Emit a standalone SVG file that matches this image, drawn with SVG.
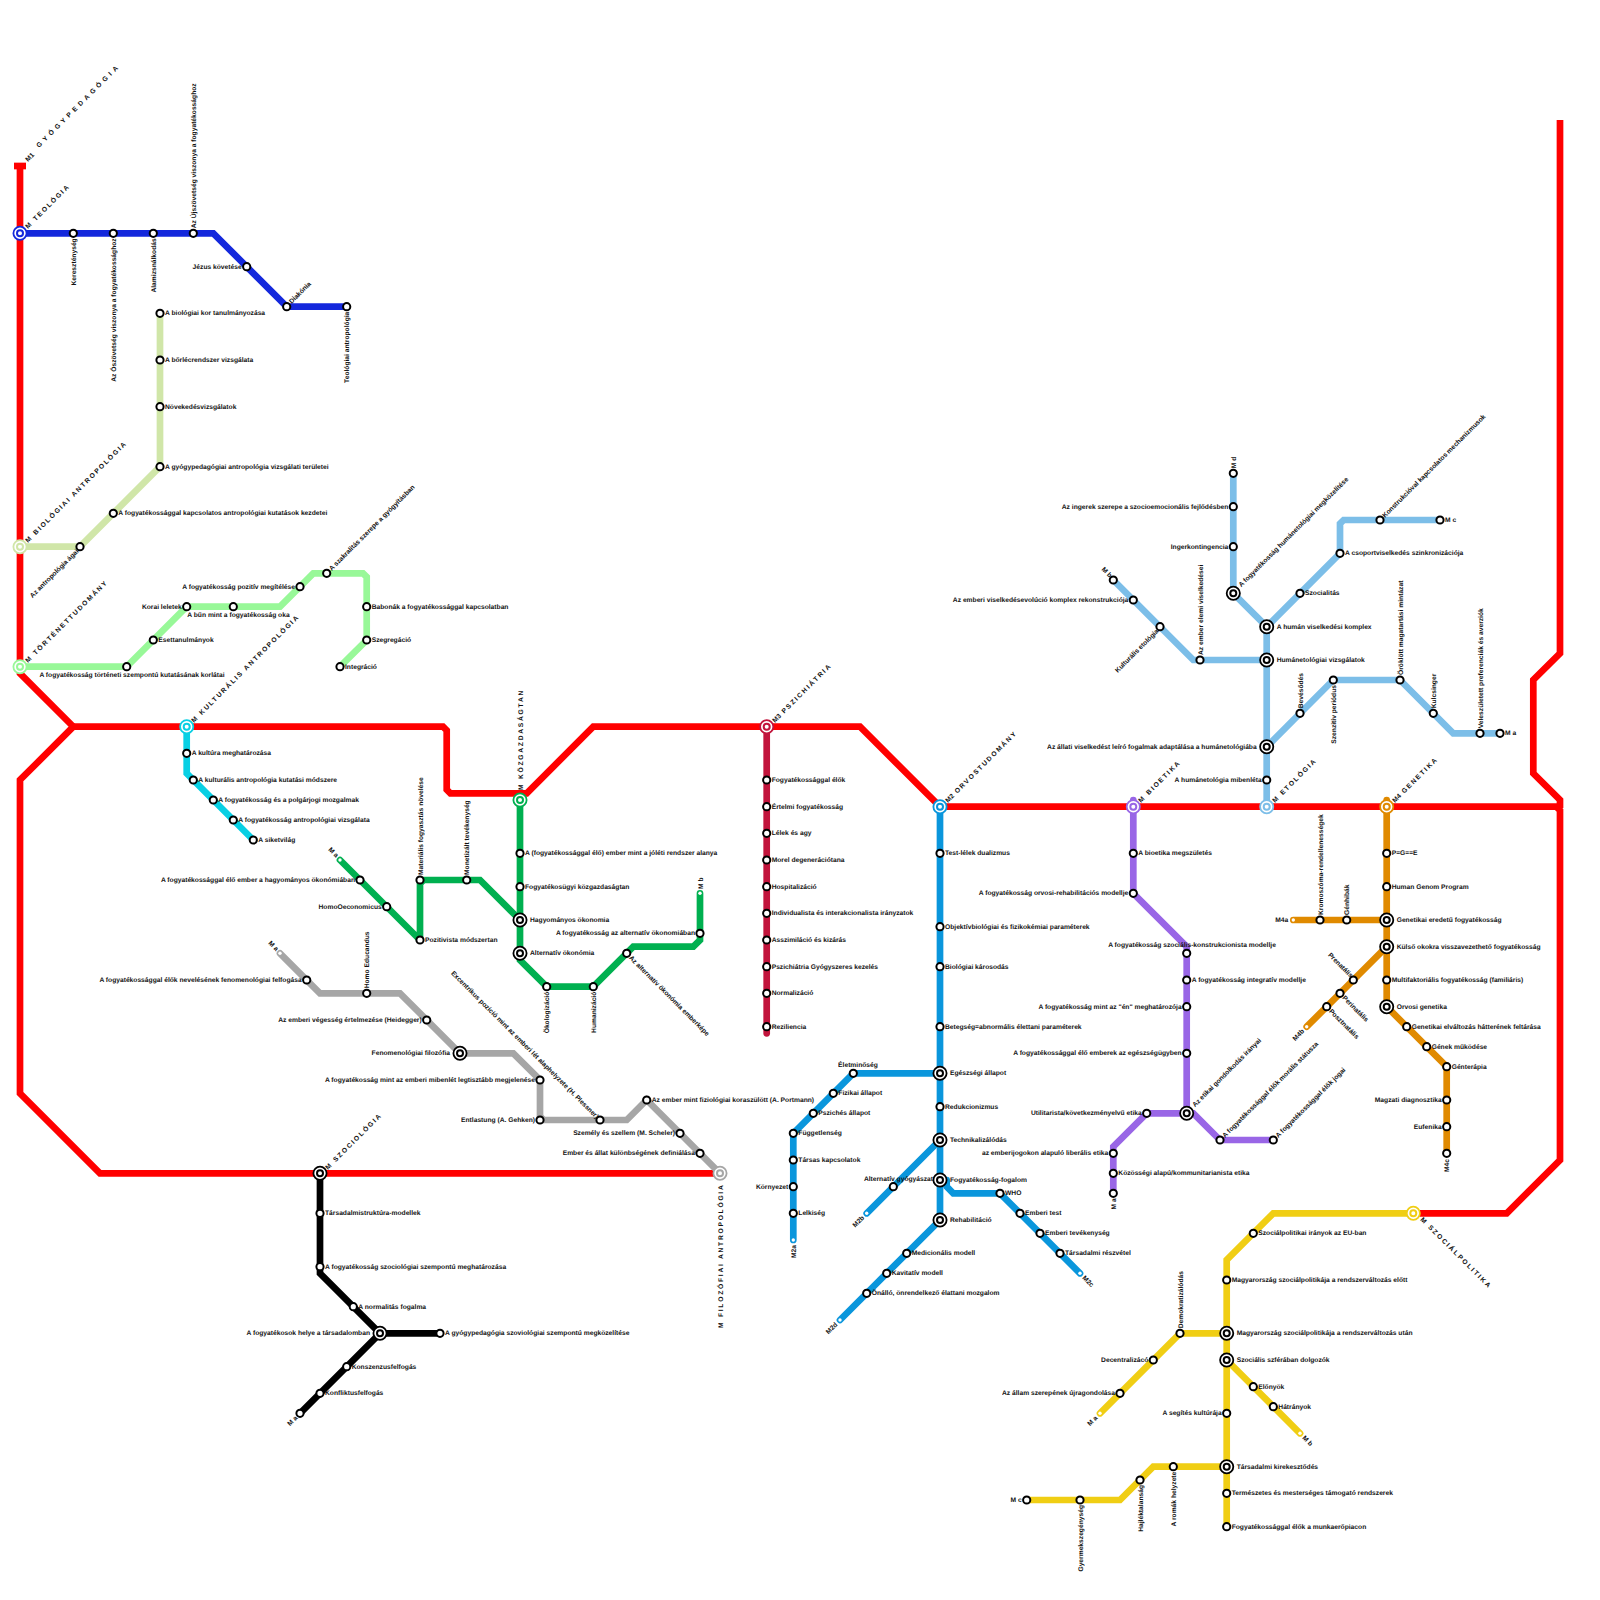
<svg xmlns="http://www.w3.org/2000/svg" width="1600" height="1600" viewBox="0 0 1600 1600">
<style>
text{font-family:"Liberation Sans",Arial,sans-serif;font-weight:700;font-size:6.7px;fill:#111;text-rendering:geometricPrecision}
g[id^="n"],g[id^="h-"],#line-m1{opacity:.995}
.e{text-anchor:end}.m{text-anchor:middle}
.n{letter-spacing:1.75px}
.w{letter-spacing:3.6px}
.t{letter-spacing:0}
.c path{fill:none;stroke-width:6.7;stroke-linejoin:miter;stroke-linecap:round}
.c .red{stroke:#f00;stroke-linecap:butt}
.blue{stroke:#1428dc;color:#1428dc}.pale{stroke:#d0e6a8;color:#d0e6a8}.lg{stroke:#98f898;color:#98f898}.cy{stroke:#08d0e4;color:#08d0e4}
.gr{stroke:#00b050;color:#00b050}.gy{stroke:#a6a6a6;color:#a6a6a6}.bk{stroke:#000;color:#000}.cr{stroke:#c2143c;color:#c2143c}
.me{stroke:#0a96dc;color:#0a96dc}.pu{stroke:#9966e6;color:#9966e6}.lb{stroke:#7cbee8;color:#7cbee8}.or{stroke:#e08a00;color:#e08a00}.ye{stroke:#f0ce14;color:#f0ce14}
use{stroke:none}
</style>
<defs>
<circle id="st" r="3.6" fill="#fff" stroke="#000" stroke-width="2"/>
<circle id="dot" r="1.7" fill="#fff"/>
<g id="ic"><circle r="6.6" fill="#fff" stroke="#000" stroke-width="1.8"/><circle r="3" fill="#fff" stroke="#000" stroke-width="2"/></g>
<g id="hub"><circle r="6.6" fill="#fff" stroke="currentColor" stroke-width="1.8"/><circle r="3" fill="#fff" stroke="currentColor" stroke-width="2"/></g>
</defs>
<g id="connectors" class="c">
<path class="red" d="M20,166V673.3L73.3,726.7L20,780V1093.3L100,1173.3H720"/>
<path class="red" d="M14,166H26" stroke-width="6"/>
<path class="red" d="M73.3,726.7H443L446.7,730.4V789.6L450.4,793.3H526.7L593.3,726.7H860L940,806.7H1556.3L1560,810.4V1160L1506.7,1213.3H1413.3"/>
<path class="red" d="M1560,120V653.3L1533.3,680V773.3L1560,800V808"/>
<path class="blue" d="M20,233.3H213.3L286.7,306.7H346.7"/>
<path class="pale" d="M20,546.7H80L160,466.7V313.3"/>
<path class="lg" d="M20,666.7H126.7L186.7,606.7H280L313.3,573.3H363L366.7,577V640L340,666.7"/>
<path class="cy" d="M186.7,726.7V773.3L253.3,840"/>
<path class="gr" d="M520,800V960L546.7,986.7H593.3L633.3,946.7H693.3L700,940V893.3"/>
<path class="gr" d="M340,860L420,940M420,940V883.7L423.7,880H480L516,916"/>
<path class="gy" d="M280,953.3L320,993.3H400L460,1053.3H513.3L540,1080V1116.3L543.7,1120H626.7L646.7,1100L720,1173.3"/>
<path class="bk" d="M320,1173.3V1273.3L380,1333.3H440"/>
<path class="bk" d="M380,1333.3L300,1413.3"/>
<path class="cr" d="M766.7,726.7V1033.3"/>
<path class="me" d="M940,806.7V1220L840,1320"/>
<path class="me" d="M940,1073.3H853.3L793.3,1133.3V1240"/>
<path class="me" d="M940,1140L866.7,1213.3"/>
<path class="me" d="M946.7,1180V1186.7L953.3,1193.3H1000L1080,1273.3"/>
<path class="pu" d="M1133.3,800V893.3L1186.7,946.7V1113.3H1146.7L1113.3,1146.7V1193.3"/>
<path class="pu" d="M1186.7,1113.3H1193.3L1220,1140H1273.3"/>
<path class="lb" d="M1266.7,806.7V626.7L1233.3,593.3V473.3"/>
<path class="lb" d="M1266.7,660H1193.3L1113.3,580"/>
<path class="lb" d="M1266.7,626.7L1340,553.3V523.7L1343.7,520H1440"/>
<path class="lb" d="M1266.7,746.7L1333.3,680H1400L1453.3,733.3H1500"/>
<path class="or" d="M1386.7,800V1006.7L1446.7,1066.7V1153.3"/>
<path class="or" d="M1293.3,920H1386.7"/>
<path class="or" d="M1386.7,946.7L1306.7,1026.7"/>
<path class="ye" d="M1413.3,1213.3H1273.3L1226.7,1260V1526.7"/>
<path class="ye" d="M1226.7,1333.3H1180L1100,1413.3"/>
<path class="ye" d="M1226.7,1360L1300,1433.3"/>
<path class="ye" d="M1226.7,1466.7H1153.3L1120,1500H1026.7"/>
</g>
<g id="line-m1"><text transform="translate(28,162) rotate(-45)">M1</text><text class="w" transform="translate(39,148) rotate(-45)">GYÓGYPEDAGÓGIA</text></g>
<g id="h-teol"><use href="#hub" x="20" y="233.3" class="blue"/><text class="n" transform="translate(28,229) rotate(-45)">M TEOLÓGIA</text></g>
<g id="h-bio"><use href="#hub" x="20" y="546.7" class="pale"/><text class="n" transform="translate(28,543) rotate(-45)">M BIOLÓGIAI ANTROPOLÓGIA</text></g>
<g id="h-tort"><use href="#hub" x="20" y="666.7" class="lg"/><text class="n" transform="translate(28,663) rotate(-45)">M TÖRTÉNETTUDOMÁNY</text></g>
<g id="h-kult"><use href="#hub" x="186.7" y="726.7" class="cy"/><text class="n" transform="translate(194,723) rotate(-45)">M KULTURÁLIS ANTROPOLÓGIA</text></g>
<g id="h-koz"><use href="#hub" x="520" y="800" class="gr"/><text class="n" transform="translate(522.5,790) rotate(-90)">M KÖZGAZDASÁGTAN</text></g>
<g id="h-fil"><use href="#hub" x="720" y="1173.3" class="gy"/><text class="n" transform="translate(722.5,1328) rotate(-90)">M FILOZÓFIAI ANTROPOLÓGIA</text></g>
<g id="h-szoc"><use href="#ic" x="320" y="1173.3"/><text class="n" transform="translate(328,1170) rotate(-45)">M SZOCIOLÓGIA</text></g>
<g id="h-psz"><use href="#hub" x="766.7" y="726.7" class="cr"/><text class="n" transform="translate(775,723) rotate(-45)"><tspan class="t">M3</tspan> PSZICHIÁTRIA</text></g>
<g id="h-orv"><use href="#hub" x="940" y="806.7" class="me"/><text class="n" transform="translate(948,803) rotate(-45)"><tspan class="t">M2</tspan> ORVOSTUDOMÁNY</text></g>
<g id="h-bioet"><use href="#hub" x="1133.3" y="806.7" class="pu"/><text class="n" transform="translate(1141,803) rotate(-45)">M BIOETIKA</text></g>
<g id="h-eto"><use href="#hub" x="1266.7" y="806.7" class="lb"/><text class="n" transform="translate(1275,803) rotate(-45)">M ETOLÓGIA</text></g>
<g id="h-gen"><use href="#hub" x="1386.7" y="806.7" class="or"/><text class="n" transform="translate(1395,803) rotate(-45)"><tspan class="t">M4</tspan> GENETIKA</text></g>
<g id="h-szp"><use href="#hub" x="1413.3" y="1213.3" class="ye"/><text class="n" transform="translate(1420,1220) rotate(45)">M SZOCIÁLPOLITIKA</text></g>

<g id="n1"><use href="#st" x="73.3" y="233.3"/><text class="e" transform="translate(75.8,238.3) rotate(-90)">Kereszténység</text></g>
<g id="n2"><use href="#st" x="113.3" y="233.3"/><text class="e" transform="translate(115.8,238.3) rotate(-90)">Az Ószövetség viszonya a fogyatékossághoz</text></g>
<g id="n3"><use href="#st" x="153.3" y="233.3"/><text class="e" transform="translate(155.8,238.3) rotate(-90)">Alamizsnálkodás</text></g>
<g id="n4"><use href="#st" x="193.3" y="233.3"/><text transform="translate(195.8,228.3) rotate(-90)">Az Újszövetség viszonya a fogyatékossághoz</text></g>
<g id="n5"><use href="#st" x="246.7" y="266.7"/><text class="e" x="241.7" y="269">Jézus követése</text></g>
<g id="n6"><use href="#st" x="286.7" y="306.7"/><text transform="translate(291.7,304) rotate(-45)">Diakónia</text></g>
<g id="n7"><use href="#st" x="346.7" y="306.7"/><text class="e" transform="translate(349.2,311.7) rotate(-90)">Teológiai antropológia</text></g>

<g id="n8"><use href="#st" x="160" y="313.3"/><text x="165" y="315.3">A biológiai kor tanulmányozása</text></g>
<g id="n9"><use href="#st" x="160" y="360"/><text x="165" y="362">A bőrlécrendszer vizsgálata</text></g>
<g id="n10"><use href="#st" x="160" y="406.7"/><text x="165" y="408.7">Növekedésvizsgálatok</text></g>
<g id="n11"><use href="#st" x="160" y="466.7"/><text x="165" y="468.7">A gyógypedagógiai antropológia vizsgálati területei</text></g>
<g id="n12"><use href="#st" x="113.3" y="513.3"/><text x="118.3" y="515.3">A fogyatékossággal kapcsolatos antropológiai kutatások kezdetei</text></g>
<g id="n13"><use href="#st" x="80" y="546.7"/><text class="e" transform="translate(79,551.7) rotate(-45)">Az antropológia ágai</text></g>

<g id="n14"><use href="#st" x="126.7" y="666.7"/><text class="m" x="132" y="677">A fogyatékosság történeti szempontú kutatásának korlátai</text></g>
<g id="n15"><use href="#st" x="153.3" y="640"/><text x="158.3" y="642">Esettanulmányok</text></g>
<g id="n16"><use href="#st" x="186.7" y="606.7"/><text class="e" x="181.7" y="608.7">Korai leletek</text></g>
<g id="n17"><use href="#st" x="233.3" y="606.7"/><text class="m" x="238.5" y="617">A bűn mint a fogyatékosság oka</text></g>
<g id="n18"><use href="#st" x="300" y="586.7"/><text class="e" x="295" y="588.7">A fogyatékosság pozitív megítélése</text></g>
<g id="n19"><use href="#st" x="326.7" y="573.3"/><text transform="translate(331.7,571) rotate(-45)">A szakralitás szerepe a gyógyításban</text></g>
<g id="n20"><use href="#st" x="366.7" y="606.7"/><text x="371.7" y="608.7">Babonák a fogyatékossággal kapcsolatban</text></g>
<g id="n21"><use href="#st" x="366.7" y="640"/><text x="371.7" y="642">Szegregáció</text></g>
<g id="n22"><use href="#st" x="340" y="666.7"/><text x="345" y="668.7">Integráció</text></g>

<g id="n23"><use href="#st" x="186.7" y="753.3"/><text x="191.7" y="755.3">A kultúra meghatározása</text></g>
<g id="n24"><use href="#st" x="193.3" y="780"/><text x="198.3" y="782">A kulturális antropológia kutatási módszere</text></g>
<g id="n25"><use href="#st" x="213.3" y="800"/><text x="218.3" y="802">A fogyatékosság és a polgárjogi mozgalmak</text></g>
<g id="n26"><use href="#st" x="233.3" y="820"/><text x="238.3" y="822">A fogyatékosság antropológiai vizsgálata</text></g>
<g id="n27"><use href="#st" x="253.3" y="840"/><text x="258.3" y="842">A siketvilág</text></g>

<g id="n28"><use href="#st" x="520" y="853.3"/><text x="525" y="855.3">A (fogyatékossággal élő) ember mint a jóléti rendszer alanya</text></g>
<g id="n29"><use href="#st" x="520" y="886.7"/><text x="525" y="888.7">Fogyatékosügyi közgazdaságtan</text></g>
<g id="n30"><use href="#ic" x="520" y="920"/><text x="530" y="922">Hagyományos ökonomia</text></g>
<g id="n31"><use href="#ic" x="520" y="953.3"/><text x="530" y="955.3">Alternatív ökonómia</text></g>
<g id="n32"><use href="#st" x="546.7" y="986.7"/><text class="e" transform="translate(549.2,991.7) rotate(-90)">Ökologizáció</text></g>
<g id="n33"><use href="#st" x="593.3" y="986.7"/><text class="e" transform="translate(595.8,991.7) rotate(-90)">Humanizáció</text></g>
<g id="n34"><use href="#st" x="626.7" y="953.3"/><text transform="translate(628.7,958.3) rotate(45)">Az alternatív ökonómia emberképe</text></g>
<g id="n35"><use href="#st" x="700" y="933.3"/><text class="e" x="695" y="935.3">A fogyatékosság az alternatív ökonomiában</text></g>
<g id="n36"><use href="#dot" x="700" y="893.3"/><text transform="translate(702.5,889) rotate(-90)">M b</text></g>
<g id="n37"><use href="#dot" x="340" y="860"/><text class="e" transform="translate(336,858) rotate(45)">M a</text></g>
<g id="n38"><use href="#st" x="360" y="880"/><text class="e" x="355" y="882">A fogyatékossággal élő ember a hagyományos ökonómiában</text></g>
<g id="n39"><use href="#st" x="386.7" y="906.7"/><text class="e" x="381.7" y="908.7">HomoOeconomicus</text></g>
<g id="n40"><use href="#st" x="420" y="940"/><text x="425" y="942">Pozitivista módszertan</text></g>
<g id="n41"><use href="#st" x="420" y="880"/><text transform="translate(422.5,875) rotate(-90)">Materiális fogyasztás növelése</text></g>
<g id="n42"><use href="#st" x="466.7" y="880"/><text transform="translate(469.2,875) rotate(-90)">Monetizált tevékenység</text></g>

<g id="n43"><use href="#dot" x="280" y="953.3"/><text class="e" transform="translate(276,951.3) rotate(45)">M a</text></g>
<g id="n44"><use href="#st" x="306.7" y="980"/><text class="e" x="301.7" y="982">A fogyatékossággal élők nevelésének fenomenológiai felfogása</text></g>
<g id="n45"><use href="#st" x="366.7" y="993.3"/><text transform="translate(369.2,988.3) rotate(-90)">Homo Educandus</text></g>
<g id="n46"><use href="#st" x="426.7" y="1020"/><text class="e" x="421.7" y="1022">Az emberi végesség értelmezése (Heidegger)</text></g>
<g id="n47"><use href="#ic" x="460" y="1053.3"/><text class="e" x="450" y="1055.3">Fenomenológiai filozófia</text></g>
<g id="n48"><use href="#st" x="540" y="1080"/><text class="e" x="535" y="1082">A fogyatékosság mint az emberi mibenlét legtisztább megjelenése</text></g>
<g id="n49"><use href="#st" x="540" y="1120"/><text class="e" x="535" y="1122">Entlastung (A. Gehken)</text></g>
<g id="n50"><use href="#st" x="600" y="1120"/><text class="e" transform="translate(596,1119) rotate(45)">Excentrikus pozíció mint az emberi lét alaphelyzete (H. Plessner)</text></g>
<g id="n51"><use href="#st" x="646.7" y="1100"/><text x="651.7" y="1102">Az ember mint fiziológiai koraszülött (A. Portmann)</text></g>
<g id="n52"><use href="#st" x="680" y="1133.3"/><text class="e" x="675" y="1135.3">Személy és szellem (M. Scheler)</text></g>
<g id="n53"><use href="#st" x="700" y="1153.3"/><text class="e" x="695" y="1155.3">Ember és állat különbségének definiálása</text></g>

<g id="n54"><use href="#st" x="320" y="1213.3"/><text x="325" y="1215.3">Társadalmistruktúra-modellek</text></g>
<g id="n55"><use href="#st" x="320" y="1266.7"/><text x="325" y="1268.7">A fogyatékosság szociológiai szempontú meghatározása</text></g>
<g id="n56"><use href="#st" x="353.3" y="1306.7"/><text x="358.3" y="1308.7">A normalitás fogalma</text></g>
<g id="n57"><use href="#ic" x="380" y="1333.3"/><text class="e" x="370" y="1335.3">A fogyatékosok helye a társadalomban</text></g>
<g id="n58"><use href="#st" x="440" y="1333.3"/><text x="445" y="1335.3">A gyógypedagógia szoviológiai szempontú megközelítése</text></g>
<g id="n59"><use href="#st" x="346.7" y="1366.7"/><text x="351.7" y="1368.7">Konszenzusfelfogás</text></g>
<g id="n60"><use href="#st" x="320" y="1393.3"/><text x="325" y="1395.3">Konfliktusfelfogás</text></g>
<g id="n61"><use href="#st" x="300" y="1413.3"/><text class="e" transform="translate(298,1418.3) rotate(-45)">M a</text></g>

<g id="n62"><use href="#st" x="766.7" y="780"/><text x="771.7" y="782">Fogyatékossággal élők</text></g>
<g id="n63"><use href="#st" x="766.7" y="806.7"/><text x="771.7" y="808.7">Értelmi fogyatékosság</text></g>
<g id="n64"><use href="#st" x="766.7" y="833.3"/><text x="771.7" y="835.3">Lélek és agy</text></g>
<g id="n65"><use href="#st" x="766.7" y="860"/><text x="771.7" y="862">Morel degenerációtana</text></g>
<g id="n66"><use href="#st" x="766.7" y="886.7"/><text x="771.7" y="888.7">Hospitalizáció</text></g>
<g id="n67"><use href="#st" x="766.7" y="913.3"/><text x="771.7" y="915.3">Individualista és interakcionalista irányzatok</text></g>
<g id="n68"><use href="#st" x="766.7" y="940"/><text x="771.7" y="942">Asszimiláció és kizárás</text></g>
<g id="n69"><use href="#st" x="766.7" y="966.7"/><text x="771.7" y="968.7">Pszichiátria Gyógyszeres kezelés</text></g>
<g id="n70"><use href="#st" x="766.7" y="993.3"/><text x="771.7" y="995.3">Normalizáció</text></g>
<g id="n71"><use href="#st" x="766.7" y="1026.7"/><text x="771.7" y="1028.7">Reziliencia</text></g>

<g id="n72"><use href="#st" x="940" y="853.3"/><text x="945" y="855.3">Test-lélek dualizmus</text></g>
<g id="n73"><use href="#st" x="940" y="926.7"/><text x="945" y="928.7">Objektívbiológiai és fizikokémiai paraméterek</text></g>
<g id="n74"><use href="#st" x="940" y="966.7"/><text x="945" y="968.7">Biológiai károsodás</text></g>
<g id="n75"><use href="#st" x="940" y="1026.7"/><text x="945" y="1028.7">Betegség=abnormális élettani paraméterek</text></g>
<g id="n76"><use href="#ic" x="940" y="1073.3"/><text x="950" y="1075.3">Egészségi állapot</text></g>
<g id="n77"><use href="#st" x="940" y="1106.7"/><text x="945" y="1108.7">Redukcionizmus</text></g>
<g id="n78"><use href="#ic" x="940" y="1140"/><text x="950" y="1142">Technikalizálódás</text></g>
<g id="n79"><use href="#ic" x="940" y="1180"/><text x="950" y="1182">Fogyatékosság-fogalom</text></g>
<g id="n80"><use href="#ic" x="940" y="1220"/><text x="950" y="1222">Rehabilitáció</text></g>
<g id="n81"><use href="#st" x="853.3" y="1073.3"/><text class="m" x="858" y="1067">Életminőség</text></g>
<g id="n82"><use href="#st" x="833.3" y="1093.3"/><text x="838.3" y="1095.3">Fizikai állapot</text></g>
<g id="n83"><use href="#st" x="813.3" y="1113.3"/><text x="818.3" y="1115.3">Pszichés állapot</text></g>
<g id="n84"><use href="#st" x="793.3" y="1133.3"/><text x="798.3" y="1135.3">Függetlenség</text></g>
<g id="n85"><use href="#st" x="793.3" y="1160"/><text x="798.3" y="1162">Társas kapcsolatok</text></g>
<g id="n86"><use href="#st" x="793.3" y="1186.7"/><text class="e" x="788.3" y="1188.7">Környezet</text></g>
<g id="n87"><use href="#st" x="793.3" y="1213.3"/><text x="798.3" y="1215.3">Lelkiség</text></g>
<g id="n88"><use href="#dot" x="793.3" y="1240"/><text class="e" transform="translate(795.8,1245) rotate(-90)">M2a</text></g>
<g id="n89"><use href="#st" x="893.3" y="1186.7"/><text class="e" x="933" y="1180.5">Alternatív gyógyászat</text></g>
<g id="n90"><use href="#dot" x="866.7" y="1213.3"/><text class="e" transform="translate(864.7,1218.3) rotate(-45)">M2b</text></g>
<g id="n91"><use href="#st" x="1000" y="1193.3"/><text x="1005" y="1195.3">WHO</text></g>
<g id="n92"><use href="#st" x="1020" y="1213.3"/><text x="1025" y="1215.3">Emberi test</text></g>
<g id="n93"><use href="#st" x="1040" y="1233.3"/><text x="1045" y="1235.3">Emberi tevékenység</text></g>
<g id="n94"><use href="#st" x="1060" y="1253.3"/><text x="1065" y="1255.3">Társadalmi részvétel</text></g>
<g id="n95"><use href="#dot" x="1080" y="1273.3"/><text transform="translate(1082,1278.3) rotate(45)">M2c</text></g>
<g id="n96"><use href="#st" x="906.7" y="1253.3"/><text x="911.7" y="1255.3">Medicionális modell</text></g>
<g id="n97"><use href="#st" x="886.7" y="1273.3"/><text x="891.7" y="1275.3">Kavitatív modell</text></g>
<g id="n98"><use href="#st" x="866.7" y="1293.3"/><text x="871.7" y="1295.3">Önálló, önrendelkező élattani mozgalom</text></g>
<g id="n99"><use href="#dot" x="840" y="1320"/><text class="e" transform="translate(838,1325) rotate(-45)">M2d</text></g>

<g id="n100"><use href="#st" x="1133.3" y="853.3"/><text x="1138.3" y="855.3">A bioetika megszületés</text></g>
<g id="n101"><use href="#st" x="1133.3" y="893.3"/><text class="e" x="1128.3" y="895.3">A fogyatékosság orvosi-rehabilitációs modellje</text></g>
<g id="n102"><use href="#st" x="1186.7" y="953.3"/><text class="m" x="1192" y="946.5">A fogyatékosság szociális-konstrukcionista modellje</text></g>
<g id="n103"><use href="#st" x="1186.7" y="980"/><text x="1191.7" y="982">A fogyatékosság integratív modellje</text></g>
<g id="n104"><use href="#st" x="1186.7" y="1006.7"/><text class="e" x="1181.7" y="1008.7">A fogyatékosság mint az "én" meghatározója</text></g>
<g id="n105"><use href="#st" x="1186.7" y="1053.3"/><text class="e" x="1181.7" y="1055.3">A fogyatékossággal élő emberek az egészségügyben</text></g>
<g id="n106"><use href="#ic" x="1186.7" y="1113.3"/><text transform="translate(1195,1107.3) rotate(-45)">Az etikai gondolkodás irányai</text></g>
<g id="n107"><use href="#st" x="1146.7" y="1113.3"/><text class="e" x="1141.7" y="1115.3">Utilitarista/következményelvű etika</text></g>
<g id="n108"><use href="#st" x="1113.3" y="1153.3"/><text class="e" x="1108.3" y="1155.3">az emberijogokon alapuló liberális etika</text></g>
<g id="n109"><use href="#st" x="1113.3" y="1173.3"/><text x="1118.3" y="1175.3">Közösségi alapú/kommunitarianista etika</text></g>
<g id="n110"><use href="#st" x="1113.3" y="1193.3"/><text class="e" transform="translate(1115.8,1198.3) rotate(-90)">M a</text></g>
<g id="n111"><use href="#st" x="1220" y="1140"/><text transform="translate(1225,1138) rotate(-45)">A fogyatékossággal élők morális státusza</text></g>
<g id="n112"><use href="#st" x="1273.3" y="1140"/><text transform="translate(1278.3,1138) rotate(-45)">A fogyatékossággal élők jogai</text></g>

<g id="n113"><use href="#st" x="1233.3" y="473.3"/><text transform="translate(1235.8,468.3) rotate(-90)">M d</text></g>
<g id="n114"><use href="#st" x="1233.3" y="506.7"/><text class="e" x="1228.3" y="508.7">Az ingerek szerepe a szocioemocionális fejlődésben</text></g>
<g id="n115"><use href="#st" x="1233.3" y="546.7"/><text class="e" x="1228.3" y="548.7">Ingerkontingencia</text></g>
<g id="n116"><use href="#ic" x="1233.3" y="593.3"/><text transform="translate(1241.3,587.3) rotate(-45)">A fogyatékosság humánetológiai megközelítése</text></g>
<g id="n117"><use href="#ic" x="1266.7" y="626.7"/><text x="1276.7" y="628.7">A humán viselkedési komplex</text></g>
<g id="n118"><use href="#ic" x="1266.7" y="660"/><text x="1276.7" y="662">Humánetológiai vizsgálatok</text></g>
<g id="n119"><use href="#ic" x="1266.7" y="746.7"/><text class="e" x="1256.7" y="748.7">Az állati viselkedést leíró fogalmak adaptálása a humánetológiába</text></g>
<g id="n120"><use href="#st" x="1266.7" y="780"/><text class="e" x="1261.7" y="782">A humánetológia mibenléta</text></g>
<g id="n121"><use href="#st" x="1113.3" y="580"/><text class="e" transform="translate(1109.3,578) rotate(45)">M b</text></g>
<g id="n122"><use href="#st" x="1133.3" y="600"/><text class="e" x="1128.3" y="602">Az emberi viselkedésevolúció komplex rekonstrukciója</text></g>
<g id="n123"><use href="#st" x="1160" y="626.7"/><text class="e" transform="translate(1159,631.7) rotate(-45)">Kulturális etológia</text></g>
<g id="n124"><use href="#st" x="1200" y="660"/><text transform="translate(1202.5,655) rotate(-90)">Az ember elemi viselkedései</text></g>
<g id="n125"><use href="#st" x="1300" y="593.3"/><text x="1305" y="595.3">Szocialitás</text></g>
<g id="n126"><use href="#st" x="1340" y="553.3"/><text x="1345" y="555.3">A csoportviselkedés szinkronizációja</text></g>
<g id="n127"><use href="#st" x="1380" y="520"/><text transform="translate(1385,518) rotate(-45)">Konstrukcióval kapcsolatos mechanizmusok</text></g>
<g id="n128"><use href="#st" x="1440" y="520"/><text x="1445" y="522">M c</text></g>
<g id="n129"><use href="#st" x="1300" y="713.3"/><text transform="translate(1302.5,708.3) rotate(-90)">Bevésődés</text></g>
<g id="n130"><use href="#st" x="1333.3" y="680"/><text class="e" transform="translate(1335.8,685) rotate(-90)">Szenzitív periódus</text></g>
<g id="n131"><use href="#st" x="1400" y="680"/><text transform="translate(1402.5,675) rotate(-90)">Öröklött magatartási mintázat</text></g>
<g id="n132"><use href="#st" x="1433.3" y="713.3"/><text transform="translate(1435.8,708.3) rotate(-90)">Kulcsinger</text></g>
<g id="n133"><use href="#st" x="1480" y="733.3"/><text transform="translate(1482.5,728.3) rotate(-90)">Veleszületett preferenciák és averziók</text></g>
<g id="n134"><use href="#st" x="1500" y="733.3"/><text x="1505" y="735.3">M a</text></g>

<g id="n135"><use href="#st" x="1386.7" y="853.3"/><text x="1391.7" y="855.3">P=G==E</text></g>
<g id="n136"><use href="#st" x="1386.7" y="886.7"/><text x="1391.7" y="888.7">Human Genom Program</text></g>
<g id="n137"><use href="#ic" x="1386.7" y="920"/><text x="1396.7" y="922">Genetikai eredetű fogyatékosság</text></g>
<g id="n138"><use href="#ic" x="1386.7" y="946.7"/><text x="1396.7" y="948.7">Külső okokra visszavezethető fogyatékosság</text></g>
<g id="n139"><use href="#st" x="1386.7" y="980"/><text x="1391.7" y="982">Multifaktoriális fogyatékosság (familiáris)</text></g>
<g id="n140"><use href="#ic" x="1386.7" y="1006.7"/><text x="1396.7" y="1008.7">Orvosi genetika</text></g>
<g id="n141"><use href="#st" x="1406.7" y="1026.7"/><text x="1411.7" y="1028.7">Genetikai elváltozás hátterének feltárása</text></g>
<g id="n142"><use href="#st" x="1426.7" y="1046.7"/><text x="1431.7" y="1048.7">Gének működése</text></g>
<g id="n143"><use href="#st" x="1446.7" y="1066.7"/><text x="1451.7" y="1068.7">Génterápia</text></g>
<g id="n144"><use href="#st" x="1446.7" y="1100"/><text class="e" x="1441.7" y="1102">Magzati diagnosztika</text></g>
<g id="n145"><use href="#st" x="1446.7" y="1126.7"/><text class="e" x="1441.7" y="1128.7">Eufenika</text></g>
<g id="n146"><use href="#st" x="1446.7" y="1153.3"/><text class="e" transform="translate(1449.2,1172) rotate(-90)" style="text-anchor:start">M4c</text></g>
<g id="n147"><use href="#dot" x="1293.3" y="920"/><text class="e" x="1288.3" y="922">M4a</text></g>
<g id="n148"><use href="#st" x="1320" y="920"/><text transform="translate(1322.5,915) rotate(-90)">Kromoszóma-rendellenességek</text></g>
<g id="n149"><use href="#st" x="1346.7" y="920"/><text transform="translate(1349.2,915) rotate(-90)">Génhibák</text></g>
<g id="n150"><use href="#st" x="1353.3" y="980"/><text class="e" transform="translate(1350.3,978) rotate(45)">Prenatális</text></g>
<g id="n151"><use href="#st" x="1340" y="993.3"/><text transform="translate(1342,998.3) rotate(45)">Perinatális</text></g>
<g id="n152"><use href="#st" x="1326.7" y="1006.7"/><text transform="translate(1328.7,1011.7) rotate(45)">Posztnatális</text></g>
<g id="n153"><use href="#dot" x="1306.7" y="1026.7"/><text class="e" transform="translate(1304.7,1031.7) rotate(-45)">M4b</text></g>

<g id="n154"><use href="#st" x="1253.3" y="1233.3"/><text x="1258.3" y="1235.3">Szociálpolitikai irányok az EU-ban</text></g>
<g id="n155"><use href="#st" x="1226.7" y="1280"/><text x="1231.7" y="1282">Magyarország szociálpolitikája a rendszerváltozás előtt</text></g>
<g id="n156"><use href="#ic" x="1226.7" y="1333.3"/><text x="1236.7" y="1335.3">Magyarország szociálpolitikája a rendszerváltozás után</text></g>
<g id="n157"><use href="#ic" x="1226.7" y="1360"/><text x="1236.7" y="1362">Szociális szférában dolgozók</text></g>
<g id="n158"><use href="#st" x="1226.7" y="1413.3"/><text class="e" x="1221.7" y="1415.3">A segítés kultúrája</text></g>
<g id="n159"><use href="#ic" x="1226.7" y="1466.7"/><text x="1236.7" y="1468.7">Társadalmi kirekesztődés</text></g>
<g id="n160"><use href="#st" x="1226.7" y="1493.3"/><text x="1231.7" y="1495.3">Természetes és mesterséges támogató rendszerek</text></g>
<g id="n161"><use href="#st" x="1226.7" y="1526.7"/><text x="1231.7" y="1528.7">Fogyatékossággal élők a munkaerőpiacon</text></g>
<g id="n162"><use href="#st" x="1180" y="1333.3"/><text transform="translate(1182.5,1328.3) rotate(-90)">Demokratizálódás</text></g>
<g id="n163"><use href="#st" x="1153.3" y="1360"/><text class="e" x="1148.3" y="1362">Decentralizácó</text></g>
<g id="n164"><use href="#st" x="1120" y="1393.3"/><text class="e" x="1115" y="1395.3">Az állam szerepének újragondolása</text></g>
<g id="n165"><use href="#dot" x="1100" y="1413.3"/><text class="e" transform="translate(1098,1418.3) rotate(-45)">M a</text></g>
<g id="n166"><use href="#st" x="1253.3" y="1386.7"/><text x="1258.3" y="1388.7">Előnyök</text></g>
<g id="n167"><use href="#st" x="1273.3" y="1406.7"/><text x="1278.3" y="1408.7">Hátrányok</text></g>
<g id="n168"><use href="#dot" x="1300" y="1433.3"/><text transform="translate(1302,1438.3) rotate(45)">M b</text></g>
<g id="n169"><use href="#st" x="1173.3" y="1466.7"/><text class="e" transform="translate(1175.8,1471.7) rotate(-90)">A romák helyzete</text></g>
<g id="n170"><use href="#st" x="1140" y="1480"/><text class="e" transform="translate(1142.5,1485) rotate(-90)">Hajléktalanság</text></g>
<g id="n171"><use href="#st" x="1080" y="1500"/><text class="e" transform="translate(1082.5,1505) rotate(-90)">Gyermekszegénység</text></g>
<g id="n172"><use href="#st" x="1026.7" y="1500"/><text class="e" x="1021.7" y="1502">M c</text></g>
</svg>
